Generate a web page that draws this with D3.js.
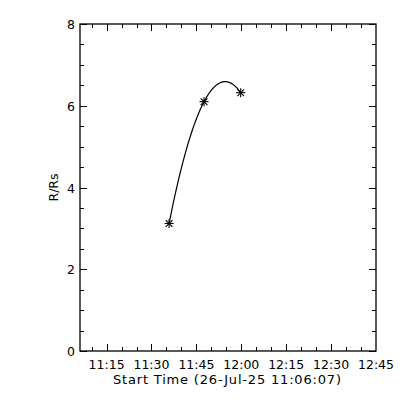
<!DOCTYPE html>
<html>
<head>
<meta charset="utf-8">
<script src="https://cdn.jsdelivr.net/npm/d3@7"></script>
<style>
  body { margin: 0; background: #fff; }
  text { font-family: "DejaVu Sans", sans-serif; fill: #000; }
</style>
</head>
<body>
<div id="chart"></div>
<script>
// measured points (time of day, height in R/Rs)
const times = ["11:35:53", "11:47:33", "11:59:48"];
const heights = [3.12, 6.10, 6.32];
const startLabel = "26-Jul-25 11:06:07";
const xTickLabels = ["11:15", "11:30", "11:45", "12:00", "12:15", "12:30", "12:45"];
const yTickLabels = [0, 2, 4, 6, 8];

const width = 400, height = 400;
const margin = { left: 80, right: 24, top: 24, bottom: 49 };

const parse = d3.timeParse("%H:%M:%S");
const parseHM = d3.timeParse("%H:%M");
const t0 = parse("11:06:07");
const t1 = parse("12:45:00");

const svg = d3.select("#chart").append("svg")
    .attr("width", width)
    .attr("height", height);

const x = d3.scaleTime()
    .domain([t0, t1])
    .range([margin.left, width - margin.right]);

const y = d3.scaleLinear()
    .domain([0, 8])
    .range([height - margin.bottom, margin.top]);

const x0 = margin.left, x1 = width - margin.right;
const y0 = height - margin.bottom, y1 = margin.top;

// frame
svg.append("rect")
    .attr("x", x0).attr("y", y1)
    .attr("width", x1 - x0).attr("height", y0 - y1)
    .attr("fill", "none")
    .attr("stroke", "#000")
    .attr("stroke-width", 1.3);

// x ticks (major every 15 min, minor every 5 min), bottom and top
const minorX = d3.timeMinute.every(5).range(t0, t1);
const majorX = xTickLabels.map(parseHM);
const isMajor = d => majorX.some(m => +m === +d);

const tx = svg.append("g").attr("stroke", "#000").attr("stroke-width", 1);
minorX.forEach(d => {
    const len = isMajor(d) ? 7 : 4;
    const px = Math.round(x(d)) + 0.5;
    tx.append("line").attr("x1", px).attr("x2", px).attr("y1", y0).attr("y2", y0 - len);
    tx.append("line").attr("x1", px).attr("x2", px).attr("y1", y1).attr("y2", y1 + len);
});

svg.append("g").selectAll("text")
    .data(majorX)
    .enter().append("text")
    .attr("x", d => x(d))
    .attr("y", y0 + 18)
    .attr("text-anchor", "middle")
    .style("font-size", "12.5px")
    .text((d, i) => xTickLabels[i]);

// y ticks (major every 2, minor every 0.5), left and right
const ty = svg.append("g").attr("stroke", "#000").attr("stroke-width", 1);
d3.range(0, 8.01, 0.5).forEach(v => {
    const len = v % 2 === 0 ? 7 : 4;
    const py = Math.round(y(v)) + 0.5;
    ty.append("line").attr("x1", x0).attr("x2", x0 + len).attr("y1", py).attr("y2", py);
    ty.append("line").attr("x1", x1).attr("x2", x1 - len).attr("y1", py).attr("y2", py);
});

svg.append("g").selectAll("text")
    .data(yTickLabels)
    .enter().append("text")
    .attr("x", x0 - 5)
    .attr("y", d => y(d) + 5)
    .attr("text-anchor", "end")
    .style("font-size", "12.5px")
    .text(d => d);

// axis titles
svg.append("text")
    .attr("x", (x0 + x1) / 2 - 1)
    .attr("y", y0 + 33)
    .attr("text-anchor", "middle")
    .attr("textLength", 228)
    .attr("lengthAdjust", "spacing")
    .style("font-size", "13px")
    .text("Start Time (" + startLabel + ")");

svg.append("text")
    .attr("transform", "translate(58," + ((y0 + y1) / 2) + ") rotate(-90)")
    .attr("text-anchor", "middle")
    .style("font-size", "12.5px")
    .text("R/Rs");

// second-order polynomial fit of height vs time (through the measured points)
const pts = times.map((t, i) => ({ t: (parse(t) - t0) / 60000, h: heights[i] }));
function quadFit(p) {
    const [a, b, c] = p;
    const s1 = (b.h - a.h) / (b.t - a.t);
    const s2 = (c.h - b.h) / (c.t - b.t);
    const k = (s2 - s1) / (c.t - a.t);
    return t => b.h + s2 * (t - b.t) + k * (t - b.t) * (t - c.t);
}
const fit = quadFit(pts);
const fitTimes = d3.range(pts[0].t, pts[2].t + 1e-9, (pts[2].t - pts[0].t) / 80);

const line = d3.line()
    .x(d => x(new Date(+t0 + d * 60000)))
    .y(d => y(fit(d)));

svg.append("path")
    .datum(fitTimes)
    .attr("d", line)
    .attr("fill", "none")
    .attr("stroke", "#000")
    .attr("stroke-width", 1.2);

// asterisk markers
const r = 4.5;
const marks = svg.append("g").attr("stroke", "#000").attr("stroke-width", 1.1);
times.forEach((t, i) => {
    const cx = x(parse(t)), cy = y(heights[i]);
    const g = marks.append("g").attr("transform", "translate(" + cx + "," + cy + ")");
    g.append("line").attr("x1", -r).attr("x2", r).attr("y1", 0).attr("y2", 0);
    g.append("line").attr("x1", 0).attr("x2", 0).attr("y1", -r).attr("y2", r);
    g.append("line").attr("x1", -r * 0.75).attr("x2", r * 0.75).attr("y1", -r * 0.75).attr("y2", r * 0.75);
    g.append("line").attr("x1", -r * 0.75).attr("x2", r * 0.75).attr("y1", r * 0.75).attr("y2", -r * 0.75);
});
</script>
</body>
</html>
